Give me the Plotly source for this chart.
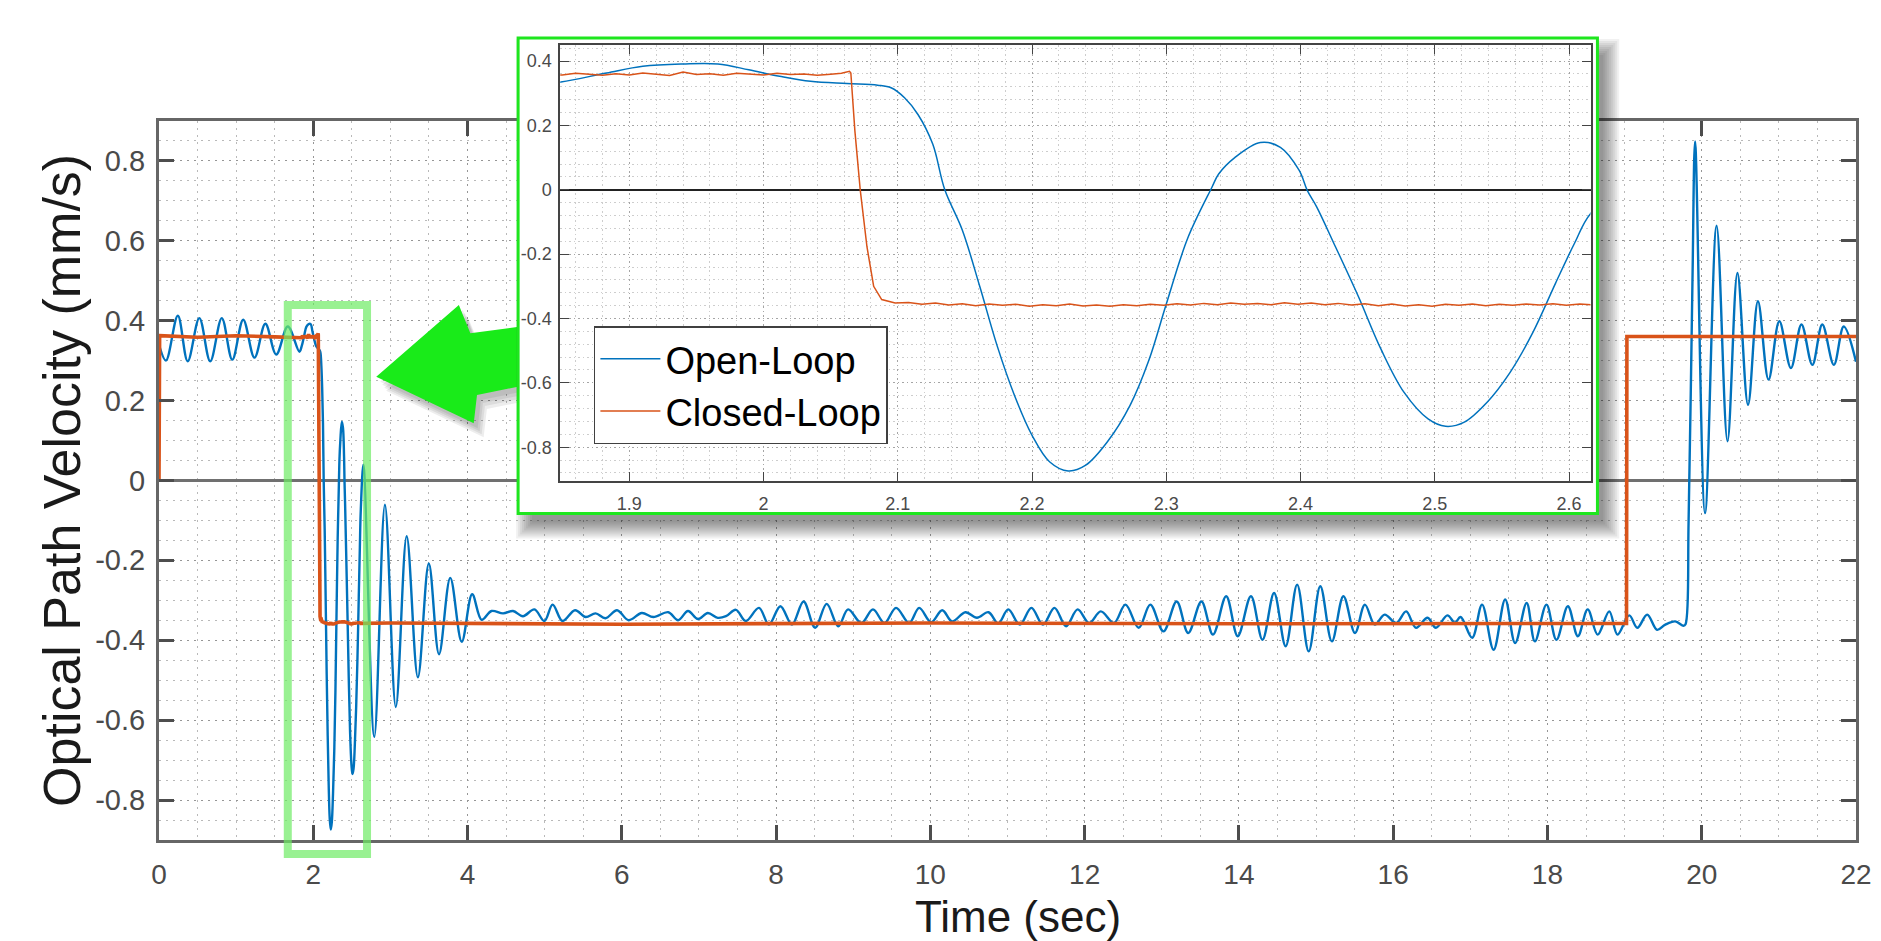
import plotly.graph_objects as go

# ---------------- data ----------------
# Open-loop response (blue): (time [s], optical path velocity [mm/s])
open_loop = [
    (0.000, 0.340), (0.090, 0.300), (0.244, 0.412), (0.372, 0.298), (0.523, 0.406),
    (0.664, 0.298), (0.814, 0.406), (0.950, 0.302), (1.092, 0.402), (1.238, 0.307),
    (1.379, 0.392), (1.520, 0.315), (1.670, 0.385), (1.820, 0.322),
    (1.849, 0.335), (1.883, 0.363), (1.910, 0.384), (1.940, 0.391), (1.966, 0.391),
    (1.989, 0.373), (2.012, 0.353), (2.035, 0.337), (2.062, 0.330), (2.085, 0.325),
    (2.095, 0.317), (2.105, 0.286), (2.115, 0.234), (2.126, 0.142), (2.135, 0.000),
    (2.148, -0.125), (2.161, -0.300), (2.174, -0.485), (2.187, -0.640), (2.200, -0.763),
    (2.213, -0.845), (2.227, -0.874), (2.240, -0.856), (2.256, -0.784), (2.273, -0.670),
    (2.287, -0.530), (2.300, -0.355), (2.316, -0.150), (2.334, 0.008), (2.339, 0.049),
    (2.351, 0.100), (2.370, 0.147), (2.385, 0.132), (2.399, 0.060), (2.405, -0.002),
    (2.412, -0.053), (2.426, -0.177), (2.443, -0.331), (2.460, -0.496), (2.477, -0.629),
    (2.495, -0.712), (2.508, -0.735), (2.522, -0.722), (2.539, -0.660), (2.556, -0.568),
    (2.573, -0.444), (2.590, -0.290), (2.604, -0.167), (2.616, -0.074),
    (2.650, 0.039), (2.791, -0.642), (2.929, -0.061), (3.070, -0.567), (3.211, -0.140),
    (3.356, -0.493), (3.498, -0.208), (3.630, -0.435), (3.776, -0.244), (3.925, -0.404),
    (4.060, -0.285), (4.183, -0.349),
    (4.311, -0.327), (4.461, -0.333), (4.590, -0.327), (4.718, -0.340), (4.867, -0.323),
    (4.996, -0.352), (5.103, -0.311), (5.231, -0.352), (5.394, -0.325), (5.531, -0.342),
    (5.659, -0.333), (5.788, -0.345), (5.938, -0.325), (6.088, -0.350), (6.259, -0.332),
    (6.409, -0.342), (6.602, -0.330), (6.730, -0.350), (6.858, -0.327), (6.987, -0.347),
    (7.115, -0.332), (7.243, -0.344), (7.350, -0.340),
    (7.479, -0.324), (7.607, -0.352), (7.778, -0.319), (7.907, -0.361), (8.056, -0.315),
    (8.206, -0.361), (8.356, -0.303), (8.506, -0.369), (8.656, -0.309), (8.806, -0.365),
    (8.934, -0.323), (9.105, -0.357), (9.256, -0.323), (9.405, -0.357), (9.555, -0.319),
    (9.726, -0.357), (9.855, -0.319), (10.010, -0.355),
    (10.154, -0.325), (10.282, -0.353), (10.454, -0.330), (10.604, -0.344), (10.753, -0.330),
    (10.880, -0.358), (11.010, -0.323), (11.160, -0.361), (11.310, -0.319), (11.459, -0.361),
    (11.609, -0.319), (11.759, -0.365), (11.909, -0.323), (12.059, -0.357), (12.209, -0.328),
    (12.380, -0.357), (12.529, -0.311), (12.701, -0.369), (12.851, -0.311), (13.022, -0.378),
    (13.193, -0.303), (13.343, -0.382), (13.514, -0.303), (13.664, -0.386), (13.835, -0.290),
    (13.985, -0.390), (14.156, -0.290), (14.306, -0.399), (14.456, -0.282), (14.606, -0.415),
    (14.755, -0.261), (14.905, -0.428), (15.055, -0.265), (15.205, -0.403), (15.355, -0.290),
    (15.505, -0.382), (15.633, -0.311), (15.762, -0.361), (15.890, -0.336), (16.040, -0.357),
    (16.168, -0.328), (16.296, -0.369), (16.446, -0.344), (16.553, -0.369),
    (16.703, -0.338), (16.800, -0.356), (16.874, -0.342), (17.024, -0.394), (17.152, -0.311),
    (17.302, -0.424), (17.452, -0.298), (17.581, -0.407), (17.730, -0.307), (17.837, -0.403),
    (17.987, -0.311), (18.116, -0.399), (18.265, -0.315), (18.394, -0.390), (18.522, -0.323),
    (18.651, -0.386), (18.801, -0.328), (18.908, -0.386), (19.060, -0.338), (19.165, -0.369),
    (19.293, -0.336), (19.421, -0.374), (19.528, -0.361), (19.657, -0.353), (19.764, -0.364),
    (19.790, -0.360), (19.830, -0.100), (19.880, 0.500), (19.914, 0.848), (20.043, -0.082),
    (20.193, 0.637), (20.334, 0.098), (20.463, 0.519), (20.600, 0.189), (20.729, 0.448),
    (20.866, 0.252), (21.006, 0.398), (21.156, 0.281), (21.293, 0.390), (21.434, 0.289),
    (21.563, 0.390), (21.713, 0.289), (21.841, 0.385), (22.000, 0.297),
]

# Closed-loop response (orange): (time [s], optical path velocity [mm/s])
closed_loop = [
    (0.000, 0.000), (0.008, 0.362), (0.500, 0.358), (1.000, 0.362), (1.500, 0.359),
    (1.850, 0.357), (1.860, 0.362), (1.870, 0.359), (1.880, 0.356), (1.890, 0.361),
    (1.900, 0.357), (1.910, 0.363), (1.920, 0.358), (1.930, 0.355), (1.940, 0.366),
    (1.950, 0.358), (1.960, 0.361), (1.970, 0.356), (1.980, 0.362), (1.990, 0.359),
    (2.000, 0.357), (2.010, 0.362), (2.020, 0.358), (2.030, 0.360), (2.040, 0.356),
    (2.050, 0.359), (2.058, 0.362), (2.064, 0.368), (2.065, 0.363), (2.068, 0.183),
    (2.072, 0.000), (2.077, -0.177), (2.082, -0.300), (2.088, -0.341), (2.098, -0.352),
    (2.108, -0.350), (2.118, -0.356), (2.128, -0.352), (2.138, -0.358), (2.148, -0.354),
    (2.158, -0.360), (2.168, -0.355), (2.178, -0.359), (2.188, -0.356), (2.198, -0.362),
    (2.208, -0.357), (2.218, -0.360), (2.228, -0.355), (2.238, -0.361), (2.248, -0.358),
    (2.258, -0.362), (2.268, -0.357), (2.278, -0.360), (2.288, -0.356), (2.298, -0.359),
    (2.308, -0.354), (2.318, -0.358), (2.328, -0.353), (2.338, -0.357), (2.348, -0.352),
    (2.358, -0.356), (2.368, -0.353), (2.378, -0.357), (2.388, -0.351), (2.398, -0.356),
    (2.408, -0.352), (2.418, -0.357), (2.428, -0.353), (2.438, -0.358), (2.448, -0.354),
    (2.458, -0.360), (2.468, -0.355), (2.478, -0.361), (2.488, -0.357), (2.498, -0.362),
    (2.508, -0.356), (2.518, -0.359), (2.528, -0.355), (2.538, -0.360), (2.548, -0.356),
    (2.558, -0.359), (2.568, -0.355), (2.578, -0.358), (2.588, -0.354), (2.598, -0.359),
    (2.608, -0.355), (2.618, -0.358), (3.000, -0.357), (6.000, -0.360), (10.000, -0.357),
    (14.000, -0.359), (19.025, -0.358), (19.030, 0.360), (22.000, 0.360),
]

series_names = ["Open-Loop", "Closed-Loop"]
series_colors = ["rgb(0,114,189)", "rgb(217,83,25)"]

main_xticks = [0, 2, 4, 6, 8, 10, 12, 14, 16, 18, 20, 22]
main_xticktext = ["0", "2", "4", "6", "8", "10", "12", "14", "16", "18", "20", "22"]
main_yticks = [-0.8, -0.6, -0.4, -0.2, 0, 0.2, 0.4, 0.6, 0.8]
main_yticktext = ["-0.8", "-0.6", "-0.4", "-0.2", "0", "0.2", "0.4", "0.6", "0.8"]
inset_xticks = [1.9, 2.0, 2.1, 2.2, 2.3, 2.4, 2.5, 2.6]
inset_xticktext = ["1.9", "2", "2.1", "2.2", "2.3", "2.4", "2.5", "2.6"]
inset_yticks = [-0.8, -0.6, -0.4, -0.2, 0, 0.2, 0.4]
inset_yticktext = ["-0.8", "-0.6", "-0.4", "-0.2", "0", "0.2", "0.4"]

x_title = "Time (sec)"
y_title = "Optical Path Velocity (mm/s)"

ol_time = [p[0] for p in open_loop]
ol_vel = [p[1] for p in open_loop]
cl_time = [p[0] for p in closed_loop]
cl_vel = [p[1] for p in closed_loop]

# ---------------- layout geometry (pixels) ----------------
W, H = 1881, 941
ML, MR, MT, MB = 159, 9, 35, 101
PW = W - ML - MR
PH = H - MT - MB


def pxx(px):
    return (px - ML) / PW


def pxy(py):
    return (H - MB - py) / PH


FONT = "Liberation Sans, Arial, Helvetica, sans-serif"
TICKFONT_COLOR = "#4a4a4a"

fig = go.Figure()

# main plot traces
fig.add_trace(go.Scatter(x=ol_time, y=ol_vel, mode="lines", name=series_names[0],
                         line=dict(color=series_colors[0], width=2.4, shape="spline", smoothing=1),
                         showlegend=False, xaxis="x", yaxis="y", hoverinfo="skip"))
fig.add_trace(go.Scatter(x=cl_time, y=cl_vel, mode="lines", name=series_names[1],
                         line=dict(color=series_colors[1], width=3.6),
                         showlegend=False, xaxis="x", yaxis="y", hoverinfo="skip"))
# frame subplot (empty, pixel coordinates) used to draw the inset frame above the main plot
fig.add_trace(go.Scatter(x=[], y=[], mode="lines", showlegend=False, xaxis="x2", yaxis="y2",
                         hoverinfo="skip"))
# inset traces
fig.add_trace(go.Scatter(x=ol_time, y=ol_vel, mode="lines", name=series_names[0],
                         line=dict(color=series_colors[0], width=1.5, shape="spline", smoothing=1),
                         showlegend=True, xaxis="x3", yaxis="y3", hoverinfo="skip"))
fig.add_trace(go.Scatter(x=cl_time, y=cl_vel, mode="lines", name=series_names[1],
                         line=dict(color=series_colors[1], width=1.5),
                         showlegend=True, xaxis="x3", yaxis="y3", hoverinfo="skip"))

main_top_px = 120.7
inset_l, inset_r, inset_t, inset_b = 564, 1604, 45, 481
frame_l, frame_r, frame_t, frame_b = 521.5, 1611, 38, 513.5
sub2_l, sub2_r, sub2_t, sub2_b = 360, 1660, 35, 560

grid_main = dict(gridcolor="rgb(150,150,150)", gridwidth=1.3, griddash="2px,5px")
minor_main = dict(gridcolor="rgb(185,185,185)", gridwidth=1.1, griddash="2px,5px", showgrid=True, ticks="")
grid_in = dict(gridcolor="rgb(165,165,165)", gridwidth=1, griddash="1.5px,3px")
minor_in = dict(gridcolor="rgb(205,205,205)", gridwidth=1, griddash="1.5px,3px", showgrid=True, ticks="")

fig.update_layout(
    width=W, height=H,
    margin=dict(l=ML, r=MR, t=MT, b=MB, pad=0),
    paper_bgcolor="white", plot_bgcolor="rgba(0,0,0,0)",
    font=dict(family=FONT, color="#222"),
    xaxis=dict(domain=[0, 1], range=[0, 22], anchor="y",
               tickmode="array", tickvals=main_xticks, ticktext=main_xticktext,
               ticks="inside", ticklen=15, tickwidth=2.5, tickcolor="#4d4d4d",
               showline=True, linewidth=3, linecolor="#666", mirror="ticks",
               showgrid=True, zeroline=False, minor=dict(dtick=0.5, **minor_main),
               tickfont=dict(size=28, color=TICKFONT_COLOR, family=FONT),
               ticklabelstandoff=7, ticklabeloverflow="allow", **grid_main),
    yaxis=dict(domain=[0, pxy(main_top_px)], range=[-0.9, 0.9], anchor="x",
               tickmode="array", tickvals=main_yticks, ticktext=main_yticktext,
               ticks="inside", ticklen=15, tickwidth=2.5, tickcolor="#4d4d4d",
               showline=True, linewidth=3, linecolor="#666", mirror="ticks",
               showgrid=True, zeroline=True, zerolinecolor="#707070", zerolinewidth=3,
               minor=dict(dtick=0.05, **minor_main),
               tickfont=dict(size=29, color=TICKFONT_COLOR, family=FONT),
               ticklabelstandoff=5, **grid_main),
    xaxis2=dict(domain=[pxx(sub2_l), pxx(sub2_r)], range=[sub2_l, sub2_r], anchor="y2",
                showgrid=False, zeroline=False, showline=False, showticklabels=False, ticks=""),
    yaxis2=dict(domain=[pxy(sub2_b), pxy(sub2_t)], range=[sub2_b, sub2_t], anchor="x2",
                showgrid=False, zeroline=False, showline=False, showticklabels=False, ticks=""),
    xaxis3=dict(domain=[pxx(inset_l), pxx(inset_r)], range=[1.8485, 2.616], anchor="y3",
                tickmode="array", tickvals=inset_xticks, ticktext=inset_xticktext,
                ticks="inside", ticklen=9, tickwidth=1.3, tickcolor="#444",
                showline=True, linewidth=1.5, linecolor="#444", mirror="ticks",
                showgrid=True, zeroline=False, minor=dict(dtick=0.02, **minor_in),
                tickfont=dict(size=18, color=TICKFONT_COLOR, family=FONT),
                ticklabelstandoff=6, **grid_in),
    yaxis3=dict(domain=[pxy(inset_b), pxy(inset_t)], range=[-0.905, 0.45], anchor="x3",
                tickmode="array", tickvals=inset_yticks, ticktext=inset_yticktext,
                ticks="inside", ticklen=9, tickwidth=1.3, tickcolor="#444",
                showline=True, linewidth=1.5, linecolor="#444", mirror="ticks",
                showgrid=True, zeroline=True, zerolinecolor="#222", zerolinewidth=1.5,
                minor=dict(dtick=0.04, **minor_in),
                tickfont=dict(size=18, color=TICKFONT_COLOR, family=FONT),
                ticklabelstandoff=3, **grid_in),
    showlegend=True,
    legend=dict(x=pxx(598), y=pxy(326), xanchor="left", yanchor="top",
                bgcolor="white", bordercolor="#404040", borderwidth=1.5,
                font=dict(size=38, color="black", family=FONT),
                itemwidth=60, traceorder="normal", tracegroupgap=0),
    annotations=[
        dict(text=y_title, xref="paper", yref="paper", x=pxx(61), y=pxy(480),
             xanchor="center", yanchor="middle", textangle=-90, showarrow=False,
             font=dict(size=52, color="#1a1a1a", family=FONT)),
        dict(text=x_title, xref="paper", yref="paper", x=pxx(1026), y=pxy(916),
             xanchor="center", yanchor="middle", showarrow=False,
             font=dict(size=44, color="#1a1a1a", family=FONT)),
    ],
)

shapes = []

# highlight box around the zoomed region in the main plot
hl = (289, 305, 369, 854)
shapes.append(dict(type="rect", xref="paper", yref="paper",
                   x0=pxx(hl[0]), x1=pxx(hl[2]), y0=pxy(hl[3]), y1=pxy(hl[1]),
                   line=dict(color="rgba(110,235,100,0.7)", width=8),
                   fillcolor="rgba(0,0,0,0)", layer="above"))

# green arrow (pixel coordinates in the frame subplot)
arrow_pts = [(378.3, 376.7), (461.7, 305.0), (473.3, 333.3), (535.0, 325.0),
             (535.0, 384.0), (480.0, 395.0), (476.7, 423.3)]


def path_of(pts, dx=0.0, dy=0.0):
    return "M " + " L ".join(f"{x + dx:.1f},{y + dy:.1f}" for x, y in pts) + " Z"


for ox, oy in [(4, 5), (6, 8), (8, 11), (10, 14)]:
    shapes.append(dict(type="path", xref="x2", yref="y2", path=path_of(arrow_pts, ox, oy),
                       fillcolor="rgba(0,0,0,0.07)", line=dict(width=0), layer="below"))
shapes.append(dict(type="path", xref="x2", yref="y2", path=path_of(arrow_pts),
                   fillcolor="rgb(25,235,25)", line=dict(width=0), layer="below"))

# drop shadow of the inset frame
sh_dx, sh_dy = 10, 13
for k in range(9):
    e = 2.0 * k - 4
    shapes.append(dict(type="rect", xref="x2", yref="y2",
                       x0=frame_l + sh_dx - e, x1=frame_r + sh_dx + e,
                       y0=frame_t + sh_dy - e, y1=frame_b + sh_dy + e,
                       fillcolor="rgba(0,0,0,0.055)", line=dict(width=0), layer="below"))

# inset frame: white panel with green border
shapes.append(dict(type="rect", xref="x2", yref="y2",
                   x0=frame_l, x1=frame_r, y0=frame_t, y1=frame_b,
                   fillcolor="white", line=dict(color="rgb(30,230,30)", width=3), layer="below"))

fig.update_layout(shapes=shapes)

fig.write_html("out.html", config={"displayModeBar": False},
               post_script="document.body.style.margin='0px';document.body.style.overflow='hidden';")
